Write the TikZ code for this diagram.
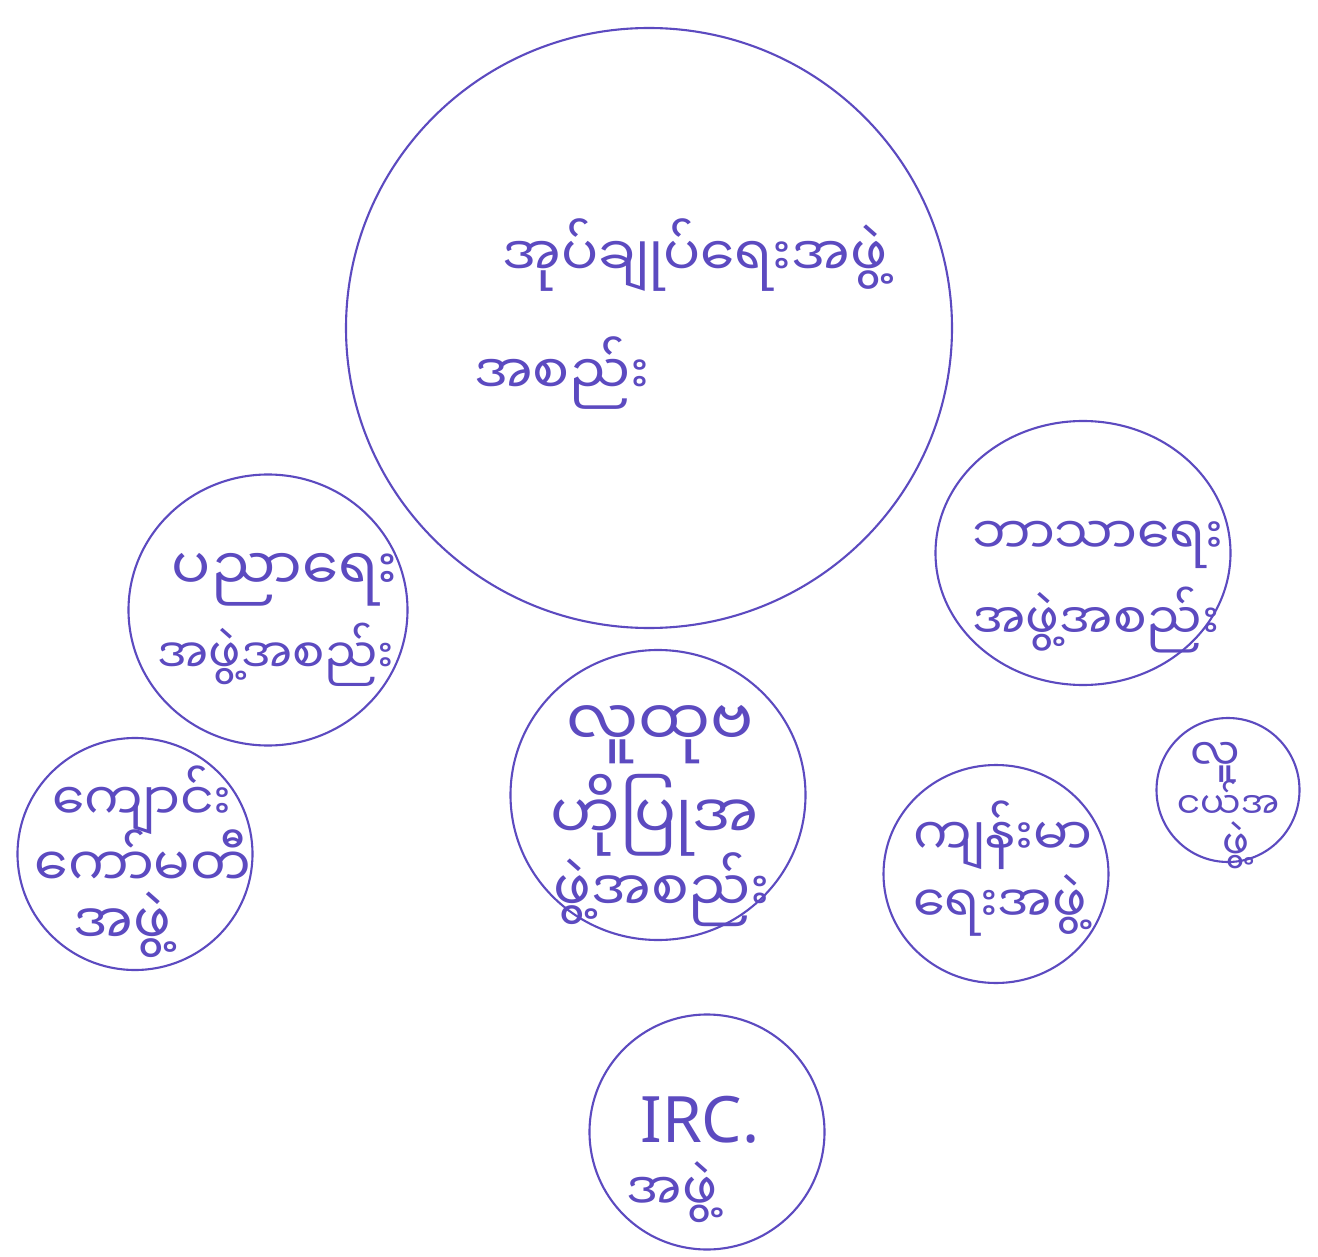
\documentclass[tikz,border=0pt]{standalone}
\usepackage{fontspec}
\setmainfont{Noto Sans}
\newfontfamily\mmfont[Script=Myanmar]{Noto Sans Myanmar UI}
\usetikzlibrary{shapes.geometric}
\definecolor{ink}{RGB}{92,74,192}
\tikzset{
  bub/.style={ellipse, draw=ink, line width=2.1pt, inner sep=0pt},
  txt/.style={text=ink, inner sep=0pt, font=\mmfont\fontsize{#1}{#1}\selectfont},
  lat/.style={text=ink, inner sep=0pt, font=\fontsize{#1}{#1}\selectfont}
}
\begin{document}
\begin{tikzpicture}[x=1pt,y=-1pt]
\useasboundingbox[fill=white] (0,0) rectangle (1318,1257);
% circles
\node[bub, minimum width=606pt, minimum height=600pt] (big) at (649,328) {};
\node[bub, minimum width=279pt, minimum height=271pt] (edu) at (268,610) {};
\node[bub, minimum width=295pt, minimum height=264pt] (rel) at (1083,553) {};
\node[bub, minimum width=295pt, minimum height=290pt] (cbo) at (658,795) {};
\node[bub, minimum width=235pt, minimum height=232pt] (sch) at (135,854) {};
\node[bub, minimum width=225pt, minimum height=218pt] (hea) at (996,874) {};
\node[bub, minimum width=143pt, minimum height=144pt] (you) at (1228,790) {};
\node[bub, minimum width=235pt, minimum height=235pt] (irc) at (707,1132) {};
% texts
\node[txt=55] (big1) at (695,255) {အုပ်ချုပ်ရေးအဖွဲ့};
\node[txt=55] (big2) at (562,373) {အစည်း};
\node[txt=58] (edu1) at (285,580) {ပညာရေး};
\node[txt=48] (edu2) at (276,655) {အဖွဲ့အစည်း};
\node[txt=52] (rel1) at (1098,545) {ဘာသာရေး};
\node[txt=50] (rel2) at (1096,620) {အဖွဲ့အစည်း};
\node[txt=64] (cbo1) at (660,735) {လူထုဗ};
\node[txt=62] (cbo2) at (655,815) {ဟိုပြုအ};
\node[txt=56] (cbo3) at (662,890) {ဖွဲ့အစည်း};
\node[txt=52] (sch1) at (142,800) {ကျောင်း};
\node[txt=54] (sch2) at (143,858) {ကော်မတီ};
\node[txt=56] (sch3) at (122,925) {အဖွဲ့};
\node[txt=52] (hea1) at (1003,835) {ကျန်းမာ};
\node[txt=51] (hea2) at (1000,905) {ရေးအဖွဲ့};
\node[txt=44] (you1) at (1215,762) {လူ};
\node[txt=36] (you2) at (1228,800) {ငယ်အ};
\node[txt=40] (you3) at (1236,845) {ဖွဲ့};
\node[lat=64] (irc1) at (700,1120) {IRC.};
\node[txt=52] (irc2) at (672,1192) {အဖွဲ့};
\end{tikzpicture}
\end{document}
